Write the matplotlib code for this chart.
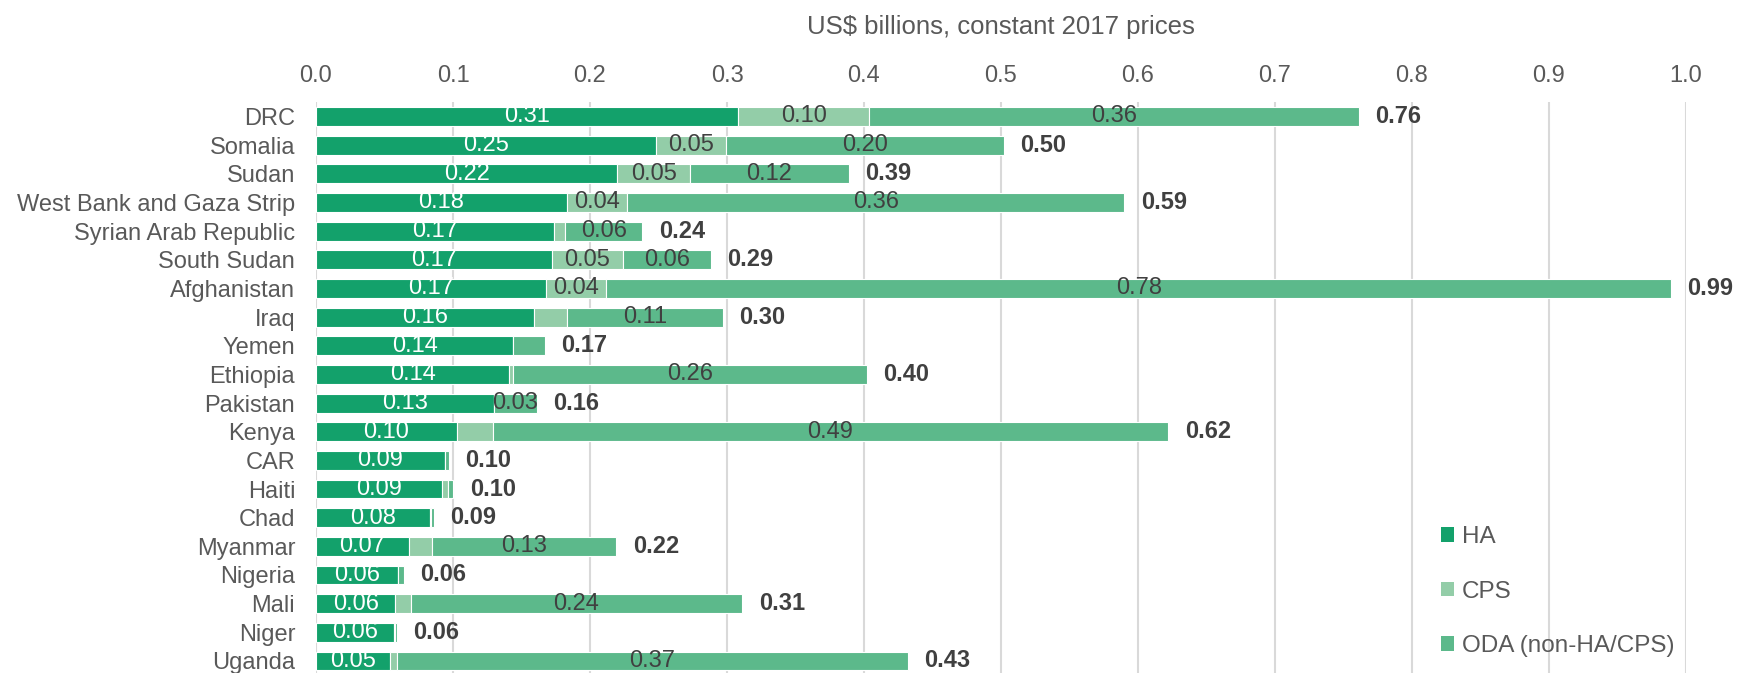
import matplotlib
matplotlib.use("Agg")
import matplotlib.pyplot as plt
from matplotlib.patches import Patch
import numpy as np

countries = ["DRC", "Somalia", "Sudan", "West Bank and Gaza Strip", "Syrian Arab Republic",
             "South Sudan", "Afghanistan", "Iraq", "Yemen", "Ethiopia", "Pakistan", "Kenya",
             "CAR", "Haiti", "Chad", "Myanmar", "Nigeria", "Mali", "Niger", "Uganda"]
ha = [0.308, 0.248, 0.220, 0.183, 0.174, 0.172, 0.168, 0.159, 0.144, 0.141,
      0.130, 0.103, 0.094, 0.092, 0.083, 0.068, 0.060, 0.058, 0.057, 0.054]
cps = [0.096, 0.051, 0.053, 0.044, 0.008, 0.052, 0.044, 0.024, 0.000, 0.003,
       0.000, 0.026, 0.000, 0.004, 0.001, 0.017, 0.000, 0.011, 0.001, 0.005]
oda = [0.357, 0.203, 0.116, 0.363, 0.056, 0.064, 0.777, 0.114, 0.023, 0.258,
       0.031, 0.493, 0.003, 0.004, 0.002, 0.134, 0.004, 0.242, 0.001, 0.373]
series_names = ["HA", "CPS", "ODA (non-HA/CPS)"]
xticks = [0.0, 0.1, 0.2, 0.3, 0.4, 0.5, 0.6, 0.7, 0.8, 0.9, 1.0]
title = "US$ billions, constant 2017 prices"

colors = ["#13a16b", "#93cda8", "#5cb98b"]
label_colors = ["white", "#404040", "#404040"]
gray = "#595959"
dark = "#404040"

plt.rcParams["font.family"] = ["Liberation Sans", "DejaVu Sans"]

fig = plt.figure(figsize=(17.4, 6.73), dpi=100)
W, H = 1740, 673
ax = fig.add_axes([316 / W, 0, (1686 - 316) / W, 1 - 102 / H])

y = np.arange(len(countries))
left = np.zeros(len(countries))
for vals, c, lc in zip([ha, cps, oda], colors, label_colors):
    vals = np.array(vals)
    ax.barh(y, vals, left=left, height=0.66, color=c, edgecolor="white",
            linewidth=0.8, zorder=3)
    for yi, l, v in zip(y, left, vals):
        if v >= 0.03:
            ax.text(l + v / 2, yi, f"{v:.2f}", ha="center", va="center",
                    color=lc, fontsize=17, zorder=4)
    left = left + vals

totals = left
for yi, t in zip(y, totals):
    ax.annotate(f"{t:.2f}", (t, yi), xytext=(12, 0), textcoords="offset points",
                ha="left", va="center", fontsize=17, fontweight="bold", color=dark)

ax.set_xlim(0, 1.0)
ax.set_ylim(19.42, -0.506)
ax.set_xticks(xticks)
ax.set_xticklabels([f"{t:.1f}" for t in xticks])
ax.xaxis.tick_top()
ax.set_yticks(y)
ax.set_yticklabels(countries)
ax.tick_params(axis="both", length=0, labelsize=17, labelcolor=gray)
ax.tick_params(axis="x", pad=11)
ax.tick_params(axis="y", pad=15)
ax.grid(axis="x", color="#d9d9d9", linewidth=1.5, zorder=0)
for s in ax.spines.values():
    s.set_visible(False)

fig.text((316 + 1686) / 2 / W, 1 - 27 / H, title, ha="center", va="center",
         fontsize=18.5, color=gray)

handles = [Patch(facecolor=c, edgecolor="none") for c in colors]
fig.legend(handles, series_names, loc="upper left", bbox_to_anchor=(1441 / W, 1 - 526 / H),
           frameon=False, fontsize=17.5, labelcolor=gray, handlelength=0.55, handleheight=0.55,
           handletextpad=0.3, labelspacing=1.34, borderpad=0, borderaxespad=0)

fig.savefig("out.png", dpi=100)
